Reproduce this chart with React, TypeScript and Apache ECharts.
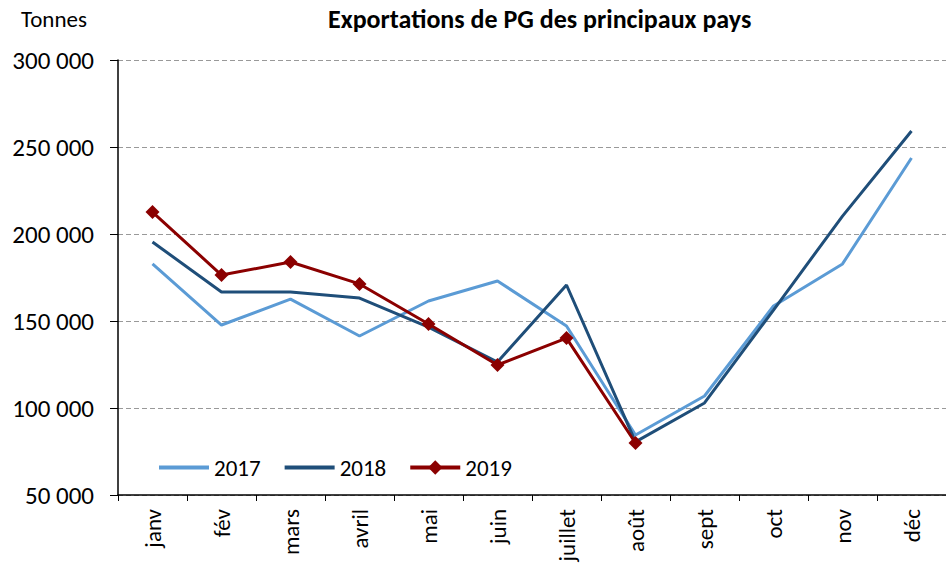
import React, { useEffect, useRef } from "react";
import * as echarts from "echarts";

const months = ["janv", "fév", "mars", "avril", "mai", "juin", "juillet", "août", "sept", "oct", "nov", "déc"];
const s2017 = [182800, 147700, 162600, 141400, 161500, 173000, 147100, 84500, 106900, 158600, 182800, 243700];
const s2018 = [195400, 166700, 166700, 163200, 146500, 126400, 170700, 80500, 102900, 156300, 210300, 259200];
const s2019 = [212600, 176400, 183900, 171300, 148300, 124700, 140200, 79900];

const FONT = "Carlito, Lato, 'Liberation Sans', sans-serif";

export default function App() {
  const ref = useRef<HTMLDivElement>(null);
  useEffect(() => {
    document.body.style.margin = "0";
    const chart = echarts.init(ref.current!, null, { renderer: "svg" });
    chart.setOption({
      animation: false,
      backgroundColor: "#ffffff",
      textStyle: { fontFamily: FONT },
      graphic: [
        { type: "text", left: 21, top: 7, style: { text: "Tonnes", fontSize: 23, fontFamily: FONT, fill: "#000" } },
        { type: "text", left: 328, top: 6, style: { text: "Exportations de PG des principaux pays", fontSize: 26, fontWeight: "bold", fontFamily: FONT, fill: "#000" } },
      ],
      legend: {
        left: 152,
        top: 451,
        itemWidth: 50,
        itemHeight: 18,
        itemGap: 22,
        lineStyle: { width: 4 },
        textStyle: { fontSize: 23, fontFamily: FONT, color: "#000" },
        data: [
          { name: "2017", itemStyle: { color: "rgba(0,0,0,0)", borderWidth: 0, opacity: 0 } },
          { name: "2018", itemStyle: { color: "rgba(0,0,0,0)", borderWidth: 0, opacity: 0 } },
          { name: "2019" },
        ],
      },
      grid: { left: 118, right: -12, top: 60, bottom: 71, containLabel: false },
      xAxis: {
        type: "category",
        data: months,
        boundaryGap: true,
        axisLine: { lineStyle: { color: "#000", width: 1.5 } },
        axisTick: { show: true, length: 6, lineStyle: { color: "#000" } },
        axisLabel: { rotate: 90, fontSize: 23, color: "#000", fontFamily: FONT, margin: 14 },
      },
      yAxis: {
        type: "value",
        min: 50000,
        max: 300000,
        interval: 50000,
        axisLine: { show: true, lineStyle: { color: "#000", width: 1.5 } },
        axisTick: { show: true, length: 8, lineStyle: { color: "#000" } },
        axisLabel: {
          fontSize: 25,
          color: "#000",
          fontFamily: FONT,
          margin: 24,
          formatter: (v: number) => String(v).replace(/\B(?=(\d{3})+(?!\d))/g, " "),
        },
        splitLine: { show: true, lineStyle: { color: "#999", type: [5, 3], width: 1.2 } },
      },
      series: [
        { name: "2017", type: "line", data: s2017, symbol: "none", lineStyle: { color: "#5B9BD5", width: 3 }, itemStyle: { color: "#5B9BD5" } },
        { name: "2018", type: "line", data: s2018, symbol: "none", lineStyle: { color: "#1F4E79", width: 3 }, itemStyle: { color: "#1F4E79" } },
        { name: "2019", type: "line", data: s2019, symbol: "diamond", symbolSize: 14, lineStyle: { color: "#8B0000", width: 3 }, itemStyle: { color: "#8B0000" } },
      ],
    });
    return () => chart.dispose();
  }, []);
  return <div ref={ref} style={{ width: 946, height: 566 }} />;
}
